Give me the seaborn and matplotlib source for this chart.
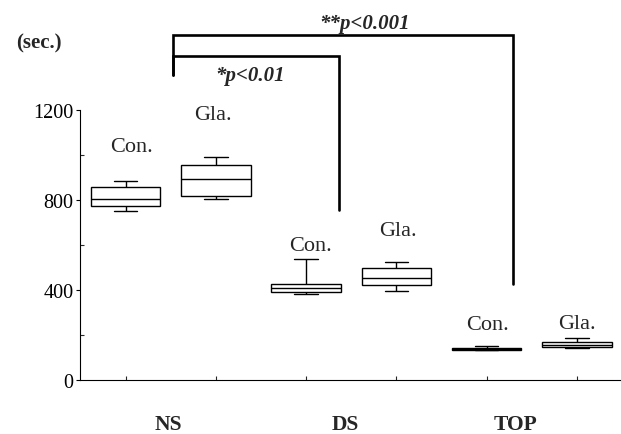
import matplotlib
matplotlib.use("Agg")
import matplotlib.pyplot as plt
import seaborn as sns
import pandas as pd
import numpy as np
from matplotlib.ticker import FixedLocator

# ---- data (five-number summaries, sec.) ----
groups = ["NS", "DS", "TOP"]
conditions = ["Con.", "Gla."]
ns_con = [753, 772, 805, 857, 886]
ns_gla = [805, 818, 895, 954, 993]
ds_con = [384, 393, 408, 429, 537]
ds_gla = [398, 421, 454, 500, 524]
top_con = [134, 136, 139, 142, 153]
top_gla = [145, 147, 156, 171, 187]
y_ticks = [0, 400, 800, 1200]
y_minor = [200, 600, 1000]
sig_labels = ["*p<0.01", "**p<0.001"]

series = [ns_con, ns_gla, ds_con, ds_gla, top_con, top_gla]
box_ids = [f"{g}-{c}" for g in groups for c in conditions]
rows = []
for bid, vals in zip(box_ids, series):
    for v in vals:
        rows.append({"box": bid, "value": v})
df = pd.DataFrame(rows)

sns.set_style("white")
plt.rcParams["font.family"] = ["Liberation Serif", "DejaVu Serif"]

fig = plt.figure(figsize=(6.21, 4.35), dpi=100)
ax = fig.add_axes([0.1294, 0.1237, 0.8725, 0.8644])

sns.boxplot(data=df, x="box", y="value", order=box_ids, ax=ax,
            whis=(0, 100), width=0.77, color="white", linecolor="black",
            linewidth=1.0, fliersize=0, capwidths=0.26)

ax.set_xlim(-0.5, 5.5)
ax.set_ylim(0, 1670)
ax.set_xlabel("")
ax.set_ylabel("")
for s in ["top", "right"]:
    ax.spines[s].set_visible(False)
ax.spines["left"].set_bounds(0, 1200)
for s in ["left", "bottom"]:
    ax.spines[s].set_linewidth(0.8)
    ax.spines[s].set_color("black")

ax.set_yticks(y_ticks)
ax.set_yticklabels([str(t) for t in y_ticks], fontsize=14.5)
ax.yaxis.set_minor_locator(FixedLocator(y_minor))
ax.tick_params(axis="y", which="major", direction="out", length=3, width=0.8,
               left=True, pad=2, colors="black")
ax.tick_params(axis="y", which="minor", direction="in", length=3, width=0.8,
               left=True)
ax.set_xticks(range(6))
ax.set_xticklabels([""] * 6)
ax.tick_params(axis="x", which="major", direction="in", length=3, width=0.8,
               bottom=True)

# condition labels above boxes
label_pos = [(0.07, 1036), (0.97, 1182), (2.05, 596), (3.02, 667),
             (4.01, 249), (5.0, 254)]
for i, (x, y) in enumerate(label_pos):
    ax.text(x, y, conditions[i % 2], ha="center", va="center", fontsize=16)

# group labels
for x, g in zip([0.47, 2.43, 4.32], groups):
    ax.text(x, -195, g, ha="center", va="center", fontsize=15.5,
            fontweight="bold", clip_on=False)

# significance brackets
lw = 1.9
ax.plot([0.526, 0.526, 2.364, 2.364], [1355, 1440, 1440, 756],
        color="black", lw=lw, solid_joinstyle="miter", clip_on=False)
ax.plot([0.526, 0.526, 4.29, 4.29], [1355, 1533, 1533, 428],
        color="black", lw=lw, solid_joinstyle="miter", clip_on=False)
ax.text(1.38, 1355, sig_labels[0], ha="center", va="center", fontsize=15,
        fontweight="bold", fontstyle="italic")
ax.text(2.65, 1586, sig_labels[1], ha="center", va="center", fontsize=15,
        fontweight="bold", fontstyle="italic")

fig.text(39 / 621, 1 - 43 / 435, "(sec.)", ha="center", va="center",
         fontsize=15, fontweight="bold")

fig.savefig("out.png", dpi=100, facecolor="white")
